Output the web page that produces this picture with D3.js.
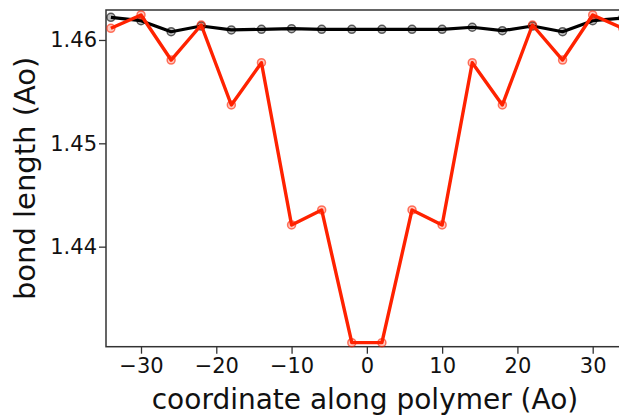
<!DOCTYPE html>
<html>
<head>
<meta charset="utf-8">
<script src="https://cdn.jsdelivr.net/npm/d3@7"></script>
<style>
  html, body { margin: 0; padding: 0; background: #fff; overflow: hidden; }
  svg { display: block; }
  text { font-family: "DejaVu Sans", sans-serif; fill: #111; }
</style>
</head>
<body>
<svg id="chart" width="619" height="416"></svg>
<script>
// Data
const coords = [-34, -30, -26, -22, -18, -14, -10, -6, -2, 2, 6, 10, 14, 18, 22, 26, 30, 34];
const blackValues = [1.46219, 1.46187, 1.46080, 1.46135, 1.46097, 1.46103, 1.46109, 1.46103, 1.46103,
                     1.46103, 1.46103, 1.46103, 1.46123, 1.46090, 1.46135, 1.46080, 1.46187, 1.46213];
const redValues = [1.46113, 1.46242, 1.45806, 1.46145, 1.45371, 1.45780, 1.44210, 1.44355, 1.43071,
                   1.43071, 1.44355, 1.44210, 1.45780, 1.45371, 1.46145, 1.45806, 1.46242, 1.46113];
const xTicks = [-30, -20, -10, 0, 10, 20, 30];
const yTicks = [1.44, 1.45, 1.46];
const xLabel = "coordinate along polymer (Ao)";
const yLabel = "bond length (Ao)";

const svg = d3.select("#chart");
const mLeft = 106, mRight = 627.7, mTop = 10, mBottom = 346.7;

const x = d3.scaleLinear().domain([-34.65, 34.65]).range([mLeft, mRight]);
const y = d3.scaleLinear().domain([1.43032, 1.46290]).range([mBottom, mTop]);

// frame
svg.append("rect")
  .attr("x", mLeft).attr("y", mTop)
  .attr("width", mRight - mLeft).attr("height", mBottom - mTop)
  .attr("fill", "none").attr("stroke", "#333").attr("stroke-width", 1.5);

// axes
const xAxis = d3.axisBottom(x).tickValues(xTicks).tickSize(7).tickPadding(4)
  .tickFormat(d => d < 0 ? "\u2212" + Math.abs(d) : String(d));
const gx = svg.append("g").attr("transform", `translate(0,${mBottom})`).call(xAxis);
gx.select(".domain").remove();
gx.selectAll(".tick line").attr("stroke", "#333").attr("stroke-width", 1.3);
gx.selectAll(".tick text").attr("font-size", 21).attr("fill", "#111");

const yAxis = d3.axisLeft(y).tickValues(yTicks).tickSize(7).tickPadding(2)
  .tickFormat(d3.format(".2f"));
const gy = svg.append("g").attr("transform", `translate(${mLeft},0)`).call(yAxis);
gy.select(".domain").remove();
gy.selectAll(".tick line").attr("stroke", "#333").attr("stroke-width", 1.3);
gy.selectAll(".tick text").attr("font-size", 21).attr("fill", "#111");

// labels
svg.append("text").attr("x", 365).attr("y", 409).attr("text-anchor", "middle")
  .attr("font-size", 28).text(xLabel);
svg.append("text").attr("transform", `translate(35,${(mTop + mBottom) / 2}) rotate(-90)`)
  .attr("text-anchor", "middle").attr("font-size", 29).text(yLabel);

const line = d3.line().x(d => x(d[0])).y(d => y(d[1]));

function series(vals, color, width) {
  const pts = coords.map((c, i) => [c, vals[i]]);
  svg.append("path").datum(pts).attr("d", line)
    .attr("fill", "none").attr("stroke", color).attr("stroke-width", width)
    .attr("stroke-linejoin", "round");
  svg.append("g").selectAll("circle").data(pts).join("circle")
    .attr("cx", d => x(d[0])).attr("cy", d => y(d[1])).attr("r", 4)
    .attr("fill", color).attr("fill-opacity", 0.25)
    .attr("stroke", color).attr("stroke-opacity", 0.6).attr("stroke-width", 1.5);
}
series(blackValues, "#000", 3.2);
series(redValues, "#ff2200", 3.4);
</script>
</body>
</html>
